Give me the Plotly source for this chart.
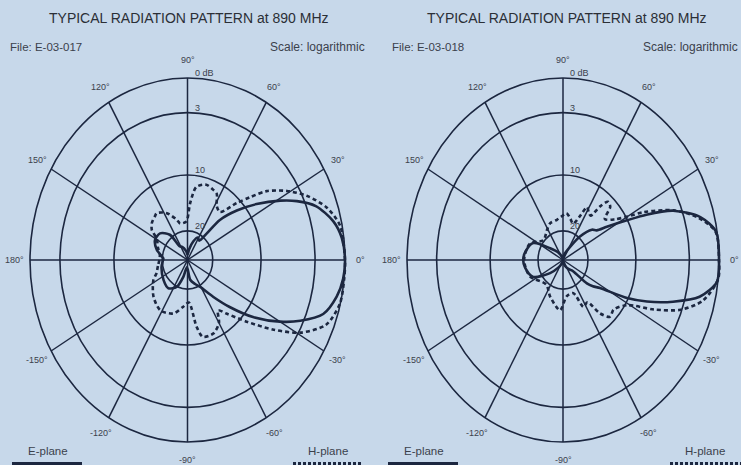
import numpy as np
import plotly.graph_objects as go

# ---- data: relative level (dB below peak) versus azimuth (degrees) ----
# File E-03-017
ANG_E_017 = [-180, -167, -144, -128, -115, -106, -95, -81, -70, -62, -51, -44, -37, -30, -25, -19, -12, -6,
             0, 7, 13, 20, 25, 29, 35, 41, 47, 50, 55, 62, 70, 80, 90, 100, 115, 123, 129, 140, 152, 164, 177]
DB_E_017 = [20.6, 19.7, 19.1, 18.8, 19.9, 28.0, 35.0, 26.3, 22.5, 19.8, 16.7, 13.1, 8.9, 5.7, 3.4, 1.4, 0.5, 0.1,
            0.0, 0.2, 0.8, 2.1, 3.9, 5.8, 8.6, 11.7, 15.4, 19.0, 23.8, 22.5, 26.3, 32.5, 36.3, 33.8, 30.0, 28.8,
            19.4, 17.8, 17.6, 18.6, 20.8]

ANG_H_017 = [-180, -170, -160, -153, -137, -122, -107, -96, -88, -81, -77, -68, -60, -55, -50, -42, -35, -29, -22,
             -14, -6, 0, 11, 18, 25, 31, 37, 41, 45, 52, 58, 63, 68, 74, 82, 87, 92, 103, 107, 117, 127, 131, 138,
             144, 149, 160, 170]
DB_H_017 = [19.4, 19.0, 18.4, 17.3, 15.6, 14.6, 15.2, 16.8, 17.6, 13.1, 11.1, 11.0, 12.2, 14.2, 12.7, 9.2, 5.9,
            2.8, 0.8, 0.05, 0.0, 0.0, 0.2, 1.1, 2.6, 4.5, 6.7, 8.8, 10.8, 14.3, 13.8, 11.9, 11.5, 11.2, 12.0, 15.1,
            18.3, 18.5, 17.7, 15.8, 14.7, 14.9, 15.3, 16.1, 17.8, 18.7, 19.4]

# File E-03-018
ANG_E_018 = [-180, -170, -154, -139, -125, -110, -90, -70, -55, -45, -42, -40, -37, -33, -27, -23, -18, -13, -7,
             0, 9, 15, 21, 25, 28, 33, 37, 42, 50, 58, 75, 90, 110, 125, 142, 154, 170]
DB_E_018 = [16.9, 17.2, 18.3, 26.3, 33.8, 37.5, 38.8, 36.0, 32.5, 30.0, 26.0, 18.7, 17.4, 16.0, 10.2, 7.6, 4.4,
            1.6, 0.1, 0.0, 0.1, 1.4, 4.1, 7.5, 10.1, 14.3, 16.4, 17.1, 19.7, 29.3, 36.0, 38.8, 37.5, 33.8, 26.9,
            18.3, 17.2]

ANG_H_018 = [-180, -157, -129, -112, -94, -83, -70, -63, -56, -51, -46, -40, -31, -25, -20, -14, -6,
             0, 9, 15, 21, 27, 30, 34, 40, 44, 48, 51, 54, 58, 62, 66, 72, 78, 85, 92, 100, 112, 122, 139, 157]
DB_H_018 = [17.1, 17.7, 19.6, 18.1, 16.2, 18.7, 18.9, 15.8, 16.1, 12.9, 11.1, 11.4, 9.7, 6.4, 3.2, 1.2, 0.0,
            0.0, 0.15, 1.6, 4.0, 7.7, 9.8, 12.2, 13.8, 11.5, 11.2, 12.8, 15.4, 15.1, 14.5, 16.7, 18.4, 17.7, 16.8,
            17.4, 17.9, 18.1, 18.9, 19.8, 17.7]

# logarithmic radial scale: dB below peak -> relative radius
SCALE_DB = [0, 3, 10, 20, 40]
SCALE_R = [1.0, 0.81, 0.467, 0.16, 0.0]
RING_DB = [0, 3, 10, 20]
RING_LABELS = ["0 dB", "3", "10", "20"]
SPOKES = list(range(0, 360, 30))
ANGLE_LABELS = {0: "0°", 30: "30°", 60: "60°", 90: "90°", 120: "120°", 150: "150°", 180: "180°",
                -150: "-150°", -120: "-120°", -90: "-90°", -60: "-60°", -30: "-30°"}

TITLE = "TYPICAL RADIATION PATTERN at 890 MHz"
FILES = ["File: E-03-017", "File: E-03-018"]

W, H = 741, 465
BG = "#c7d8ea"
INK = "#1c2740"
TXT = "#3b414c"
FONT = "Liberation Sans"
SPAN = 1.1


def radius(db):
    return np.interp(np.asarray(db, dtype=float), SCALE_DB, SCALE_R)


def to_xy(ang, db):
    a = np.radians(np.asarray(ang, dtype=float))
    r = radius(db)
    x = r * np.cos(a)
    y = r * np.sin(a)
    return np.append(x, x[0]), np.append(y, y[0])


def label(xref, yref, x, y, text, size, color=TXT, xanchor="center", **kw):
    return dict(xref=xref, yref=yref, x=x, y=y, text=text, showarrow=False,
                xanchor=xanchor, yanchor=kw.pop("yanchor", "middle"),
                font=dict(family=FONT, size=size, color=color), **kw)


# panel geometry in pixels: centre and radii of the 0 dB ring
panels = [
    dict(cx=187.5, cy=260, rx=157.5, ry=182, xa="x", ya="y", title_x=189,
         e=(ANG_E_017, DB_E_017), h=(ANG_H_017, DB_H_017), file=FILES[0], left=8, right=367),
    dict(cx=563, cy=260, rx=156, ry=182, xa="x2", ya="y2", title_x=567,
         e=(ANG_E_018, DB_E_018), h=(ANG_H_018, DB_H_018), file=FILES[1], left=390, right=740),
]

fig = go.Figure()
shapes, annotations = [], []
layout_axes = {}

for i, p in enumerate(panels):
    sfx = "" if i == 0 else str(i + 1)
    x0 = (p["cx"] - p["rx"] * SPAN) / W
    x1 = (p["cx"] + p["rx"] * SPAN) / W
    yc = H - p["cy"]
    y0 = (yc - p["ry"] * SPAN) / H
    y1 = (yc + p["ry"] * SPAN) / H
    layout_axes["xaxis" + sfx] = dict(domain=[x0, x1], range=[-SPAN, SPAN], visible=False, fixedrange=True)
    layout_axes["yaxis" + sfx] = dict(domain=[y0, y1], range=[-SPAN, SPAN], visible=False, fixedrange=True)

    # rings
    for db in RING_DB:
        r = float(radius(db))
        shapes.append(dict(type="circle", xref=p["xa"], yref=p["ya"], x0=-r, x1=r, y0=-r, y1=r,
                           line=dict(color=INK, width=1.6), layer="below"))
    # spokes
    for a in SPOKES:
        t = np.radians(a)
        shapes.append(dict(type="line", xref=p["xa"], yref=p["ya"], x0=0, y0=0,
                           x1=float(np.cos(t)), y1=float(np.sin(t)),
                           line=dict(color=INK, width=1.5), layer="below"))
    # angle labels
    for a, lab in ANGLE_LABELS.items():
        t = np.radians(a)
        annotations.append(label(p["xa"], p["ya"], 1.1 * np.cos(t), 1.1 * np.sin(t), lab, 9))
    # ring labels
    for db, lab in zip(RING_DB, RING_LABELS):
        r = float(radius(db))
        annotations.append(label(p["xa"], p["ya"], 0.035, r, lab, 9, xanchor="left",
                                 yanchor="bottom", yshift=-2))

    ex, ey = to_xy(*p["e"])
    hx, hy = to_xy(*p["h"])
    fig.add_trace(go.Scatter(x=hx, y=hy, xaxis=p["xa"], yaxis=p["ya"], mode="lines",
                             line=dict(color=INK, width=2.6, dash="4px,3px", shape="spline", smoothing=0.8),
                             name="H-plane", showlegend=False, hoverinfo="skip"))
    fig.add_trace(go.Scatter(x=ex, y=ey, xaxis=p["xa"], yaxis=p["ya"], mode="lines",
                             line=dict(color=INK, width=2.6, shape="spline", smoothing=0.8),
                             name="E-plane", showlegend=False, hoverinfo="skip"))

    # header texts
    annotations.append(label("paper", "paper", p["title_x"] / W, 1 - 18 / H, TITLE, 14, color="#2b2f36"))
    annotations.append(label("paper", "paper", p["left"] / W, 1 - 47 / H, p["file"], 11.5, xanchor="left"))
    annotations.append(label("paper", "paper", p["right"] / W, 1 - 47 / H, "Scale: logarithmic", 12,
                             xanchor="right"))

# legend keys under each panel
legend_keys = [(48, 12, 82, "E-plane", "solid"), (328, 293, 363, "H-plane", "dash"),
               (424, 388, 458, "E-plane", "solid"), (705, 670, 741, "H-plane", "dash")]
for tx, lx0, lx1, lab, style in legend_keys:
    annotations.append(label("paper", "paper", tx / W, 1 - 451 / H, lab, 11.5))
    shapes.append(dict(type="line", xref="paper", yref="paper", x0=lx0 / W, x1=lx1 / W,
                       y0=1 - 463.5 / H, y1=1 - 463.5 / H,
                       line=dict(color=INK, width=3, dash="solid" if style == "solid" else "3px,2px")))

fig.update_layout(width=W, height=H, margin=dict(l=0, r=0, t=0, b=0),
                  paper_bgcolor=BG, plot_bgcolor=BG, showlegend=False,
                  shapes=shapes, annotations=annotations, **layout_axes)

fig.write_html("out.html", config={"displayModeBar": False})
